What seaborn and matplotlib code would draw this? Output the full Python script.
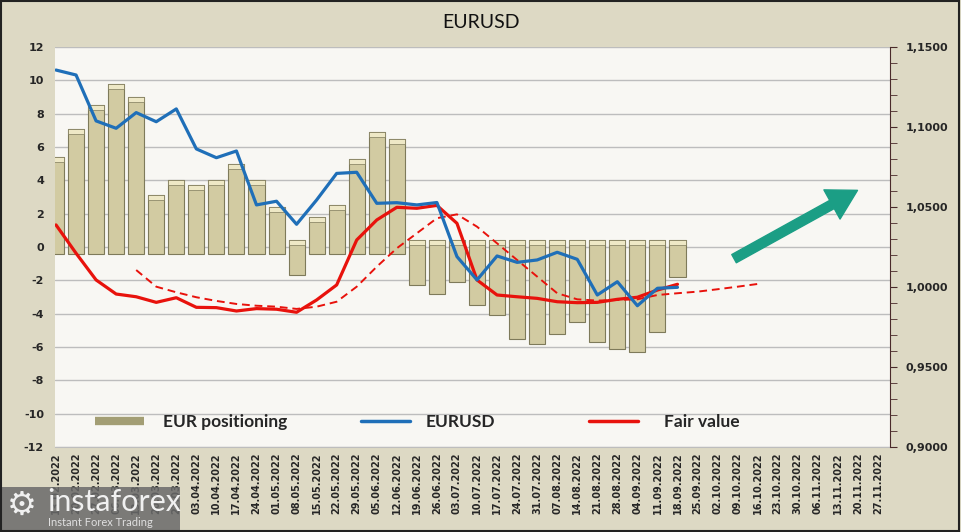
import numpy as np
import pandas as pd
import matplotlib
matplotlib.use('Agg')
import matplotlib.pyplot as plt
import seaborn as sns
from matplotlib.lines import Line2D
from matplotlib.patches import Rectangle, FancyArrowPatch
from matplotlib.ticker import FuncFormatter, MultipleLocator

# weekly categories
dates = ['13.02.2022', '20.02.2022', '27.02.2022', '06.03.2022', '13.03.2022', '20.03.2022',
         '27.03.2022', '03.04.2022', '10.04.2022', '17.04.2022', '24.04.2022', '01.05.2022',
         '08.05.2022', '15.05.2022', '22.05.2022', '29.05.2022', '05.06.2022', '12.06.2022',
         '19.06.2022', '26.06.2022', '03.07.2022', '10.07.2022', '17.07.2022', '24.07.2022',
         '31.07.2022', '07.08.2022', '14.08.2022', '21.08.2022', '28.08.2022', '04.09.2022',
         '11.09.2022', '18.09.2022', '25.09.2022', '02.10.2022', '09.10.2022', '16.10.2022',
         '23.10.2022', '30.10.2022', '06.11.2022', '13.11.2022', '20.11.2022', '27.11.2022']

# EUR positioning (left axis)
positioning = [5.4, 7.1, 8.5, 9.8, 9.0, 3.1, 4.0, 3.7, 4.0, 5.0, 4.0, 2.4,
               -1.7, 1.8, 2.5, 5.3, 6.9, 6.5, -2.3, -2.8, -2.1, -3.5, -4.1, -5.5,
               -5.8, -5.2, -4.5, -5.7, -6.1, -6.3, -5.1, -1.8]

# EURUSD (right axis)
eurusd = [1.1356, 1.1325, 1.1038, 1.0992, 1.1090, 1.1033, 1.1113, 1.0863, 1.0808, 1.0850,
          1.0513, 1.0536, 1.0392, 1.0544, 1.0710, 1.0717, 1.0523, 1.0527, 1.0513, 1.0528,
          1.0190, 1.0044, 1.0194, 1.0154, 1.0169, 1.0217, 1.0173, 0.9950, 1.0033, 0.9883,
          0.9992, 0.9998]

# Fair value (right axis)
fair_value = [1.0388, 1.0211, 1.0044, 0.9956, 0.9939, 0.9904, 0.9933, 0.9873, 0.9871, 0.9850,
              0.9865, 0.9861, 0.9842, 0.9919, 1.0013, 1.0294, 1.0419, 1.0498, 1.0492, 1.0510,
              1.0398, 1.0044, 0.9950, 0.9939, 0.9929, 0.9908, 0.9902, 0.9904, 0.9923, 0.9936,
              0.9981, 1.0017]

# Fair value trend (dashed), starts at 13.03.2022
trend_start = 4
fair_trend = [1.0106, 1.0002, 0.9967, 0.9936, 0.9913, 0.9894, 0.9883, 0.9877, 0.9863, 0.9877,
              0.9908, 1.0002, 1.0127, 1.0242, 1.0336, 1.0430, 1.0454, 1.0377, 1.0273, 1.0169,
              1.0065, 0.9961, 0.9923, 0.9915, 0.9919, 0.9923, 0.9950, 0.9961, 0.9971, 0.9986,
              1.0002, 1.0019]

fig_bg = '#DDD9C4'
plot_bg = '#F8F7F3'
blue = '#1F6FB8'
red = '#E8120C'
bar_face = '#D2CBA2'
bar_edge = '#7E7A5A'

sns.set_style('white')
plt.rcParams['font.family'] = ['DejaVu Sans']
plt.rcParams['axes.unicode_minus'] = False

fig = plt.figure(figsize=(9.61, 5.32), dpi=100, facecolor=fig_bg)
ax = fig.add_axes([55 / 961, 85 / 532, 835 / 961, 400 / 532])
ax.set_facecolor(plot_bg)
ax2 = ax.twinx()

# bars: 3D-like offset base as in the original
pos = np.array(positioning)
idx = np.arange(len(pos))
base = np.where(pos >= 0, -0.4, 0.4)
ax.bar(idx, pos - base, bottom=base, width=0.8, color=bar_face,
       edgecolor=bar_edge, linewidth=0.8, zorder=2)
top = np.maximum(pos, 0.4)
ax.bar(idx, -0.3, bottom=top, width=0.8, color='#EEE8C6',
       edgecolor=bar_edge, linewidth=0.5, zorder=3)

ax.set_ylim(-12, 12)
ax.set_yticks(np.arange(-12, 13, 2))
ax.grid(axis='y', color='#BDBDBD', linewidth=1, zorder=0)
ax.set_axisbelow(True)
ax.set_xlim(-0.05, 41.6)
ax.set_xticks(np.arange(len(dates)))
ax.set_xticklabels(dates, rotation=90, fontsize=7, fontweight='bold')
ax.tick_params(axis='x', length=0, pad=4)
ax.tick_params(axis='y', length=0, pad=8, labelsize=8)
for lab in ax.get_yticklabels():
    lab.set_fontweight('bold')
for s in ['left', 'top']:
    ax.spines[s].set_visible(False)
ax.spines['bottom'].set_color('#BDBDBD')
ax.spines['right'].set_visible(False)

# lines on right axis
sns.lineplot(x=np.arange(len(fair_value)), y=fair_value, ax=ax2, color=red, linewidth=2.3, zorder=4)
sns.lineplot(x=np.arange(trend_start, trend_start + len(fair_trend)), y=fair_trend, ax=ax2,
             color=red, linewidth=1.4, linestyle=(0, (4, 2.5)), zorder=4)
sns.lineplot(x=np.arange(len(eurusd)), y=eurusd, ax=ax2, color=blue, linewidth=2.3, zorder=5)

ax2.set_ylim(0.9, 1.15)
ax2.set_xlim(-0.05, 41.6)
ax2.yaxis.set_major_locator(MultipleLocator(0.05))
ax2.yaxis.set_minor_locator(MultipleLocator(0.01))
ax2.yaxis.set_major_formatter(FuncFormatter(lambda v, p: f'{v:.4f}'.replace('.', ',')))
ax2.tick_params(axis='y', which='both', direction='out', length=5, color='#4A2A2A',
                labelsize=8, pad=6)
for lab in ax2.get_yticklabels():
    lab.set_fontweight('bold')
ax2.set_ylabel('')
for s in ['left', 'top', 'bottom']:
    ax2.spines[s].set_visible(False)
ax2.spines['right'].set_color('#4A2A2A')

# arrow
arrow = FancyArrowPatch((33.7, -0.78), (40.1, 3.48), transform=ax.transData,
                        arrowstyle='simple,head_width=1.6,head_length=1.4,tail_width=0.45',
                        mutation_scale=15, color='#1B9E85', zorder=6, capstyle='round')
ax2.add_patch(arrow)

# legends
leg_kw = dict(frameon=False, borderpad=0, borderaxespad=0, loc='center left',
              handlelength=2.8, prop={'family': 'Lato', 'weight': 'bold', 'size': 12.5})
h1 = [Line2D([0], [0], color='#A39E74', lw=6, solid_capstyle='butt')]
h2 = [Line2D([0], [0], color=blue, lw=2.5)]
h3 = [Line2D([0], [0], color=red, lw=2.5)]
l1 = ax2.legend(h1, ['EUR positioning'], bbox_to_anchor=((95 - 55) / 835, 0.063),
                handletextpad=1.1, **leg_kw)
ax2.add_artist(l1)
l2 = ax2.legend(h2, ['EURUSD'], bbox_to_anchor=((361 - 55) / 835, 0.063),
                handletextpad=0.95, **leg_kw)
ax2.add_artist(l2)
ax2.legend(h3, ['Fair value'], bbox_to_anchor=((589 - 55) / 835, 0.063),
           handletextpad=1.5, **leg_kw)

fig.text(0.5, 1 - 22 / 532, 'EURUSD', ha='center', va='center', fontsize=14,
         family='Lato', color='#111111')

# watermark
fig.patches.append(Rectangle((0, 0), 180 / 961, 45 / 532, transform=fig.transFigure,
                             facecolor='#6A6A6A', alpha=0.85, edgecolor='none', zorder=10))
fig.text(22 / 961, 1 - 505 / 532, '\u2699', ha='center', va='center', fontsize=24,
         color='#F0F0F0', zorder=11)
fig.text(47 / 961, 1 - 502 / 532, 'instaforex', ha='left', va='center', fontsize=22,
         family='Lato', color='#F0F0F0', zorder=11)
fig.text(48 / 961, 1 - 522 / 532, 'Instant Forex Trading', ha='left', va='center', fontsize=8,
         family='Lato', color='#E0E0E0', zorder=11)

fig.patches.append(Rectangle((0.001, 0.002), 0.997, 0.996, transform=fig.transFigure,
                             fill=False, edgecolor='#222222', linewidth=1.5, zorder=12))

fig.savefig('out.png', dpi=100, facecolor=fig_bg)
